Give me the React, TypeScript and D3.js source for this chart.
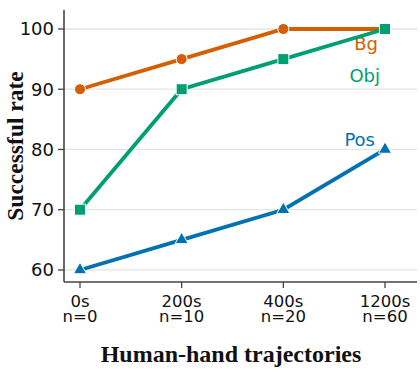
import React from "react";
import * as d3 from "d3";

const categories = ["0s\nn=0", "200s\nn=10", "400s\nn=20", "1200s\nn=60"];
const seriesNames = ["Bg", "Obj", "Pos"];
const bgValues = [90, 95, 100, 100];
const objValues = [70, 90, 95, 100];
const posValues = [60, 65, 70, 80];
const yTicks = [60, 70, 80, 90, 100];

const colors: Record<string, string> = { Bg: "#d55e00", Obj: "#009e73", Pos: "#0072b2" };
const markers: Record<string, string> = { Bg: "circle", Obj: "square", Pos: "triangle" };
const values: Record<string, number[]> = { Bg: bgValues, Obj: objValues, Pos: posValues };
// label anchor: [x offset from last point, baseline y]
const labelPos: Record<string, [number, number]> = { Bg: [-7, 50], Obj: [-5, 82], Pos: [-10, 146] };

const W = 420, H = 374;
const left = 64, right = 417, top = 10, bottom = 282;

export default function App() {
  const x = d3.scalePoint<string>().domain(categories).range([80, 385]);
  const y = d3.scaleLinear().domain([58, 103.15]).range([bottom, top]);
  const line = d3.line<number>().x((_, i) => x(categories[i])!).y((d) => y(d));
  const font = "'DejaVu Sans', sans-serif";
  const serif = "'Liberation Serif', 'Times New Roman', serif";
  const axisColor = "#444";

  const marker = (kind: string, cx: number, cy: number, color: string, key: string) => {
    if (kind === "circle") return <circle key={key} cx={cx} cy={cy} r={5.5} fill={color} stroke="#fff" strokeWidth={1} />;
    if (kind === "square") return <rect key={key} x={cx - 5.5} y={cy - 5.5} width={11} height={11} fill={color} stroke="#fff" strokeWidth={1} />;
    const s = d3.symbol().type(d3.symbolTriangle).size(75)();
    return <path key={key} d={s!} transform={`translate(${cx},${cy})`} fill={color} stroke="#fff" strokeWidth={1} />;
  };

  return (
    <svg width={W} height={H} style={{ position: "absolute", left: 0, top: 0 }}>
      {yTicks.map((t) => (
        <line key={t} x1={left} x2={right} y1={y(t)} y2={y(t)} stroke="#e4e4e4" strokeWidth={1.3} />
      ))}
      {seriesNames.map((s) => (
        <g key={s}>
          <path d={line(values[s])!} fill="none" stroke={colors[s]} strokeWidth={3.8} />
          {values[s].map((v, i) => marker(markers[s], x(categories[i])!, y(v), colors[s], s + i))}
          <text x={x(categories[3])! + labelPos[s][0]} y={labelPos[s][1]} fill={colors[s]} fontFamily={font} fontSize={18} textAnchor="end">{s}</text>
        </g>
      ))}
      <line x1={left} x2={left} y1={top} y2={bottom} stroke={axisColor} strokeWidth={1.6} />
      <line x1={left} x2={right} y1={bottom} y2={bottom} stroke={axisColor} strokeWidth={1.6} />
      {yTicks.map((t) => (
        <g key={t}>
          <line x1={left - 6} x2={left} y1={y(t)} y2={y(t)} stroke={axisColor} strokeWidth={1.3} />
          <text x={54} y={y(t) + 6.5} textAnchor="end" fontFamily={font} fontSize={18} fill="#111">{t}</text>
        </g>
      ))}
      {categories.map((c) => {
        const [a, b] = c.split("\n");
        const cx = x(c)!;
        return (
          <g key={c}>
            <line x1={cx} x2={cx} y1={bottom} y2={bottom + 6} stroke={axisColor} strokeWidth={1.3} />
            <text x={cx} y={307} textAnchor="middle" fontFamily={font} fontSize={16.5} fill="#111">{a}</text>
            <text x={cx} y={322} textAnchor="middle" fontFamily={font} fontSize={16.5} fill="#111">{b}</text>
          </g>
        );
      })}
      <text x={231} y={362} textAnchor="middle" fontFamily={serif} fontWeight="bold" fontSize={24} fill="#111">Human-hand trajectories</text>
      <text transform={`translate(23,146) rotate(-90)`} textAnchor="middle" fontFamily={serif} fontWeight="bold" fontSize={23.5} fill="#111">Successful rate</text>
    </svg>
  );
}
